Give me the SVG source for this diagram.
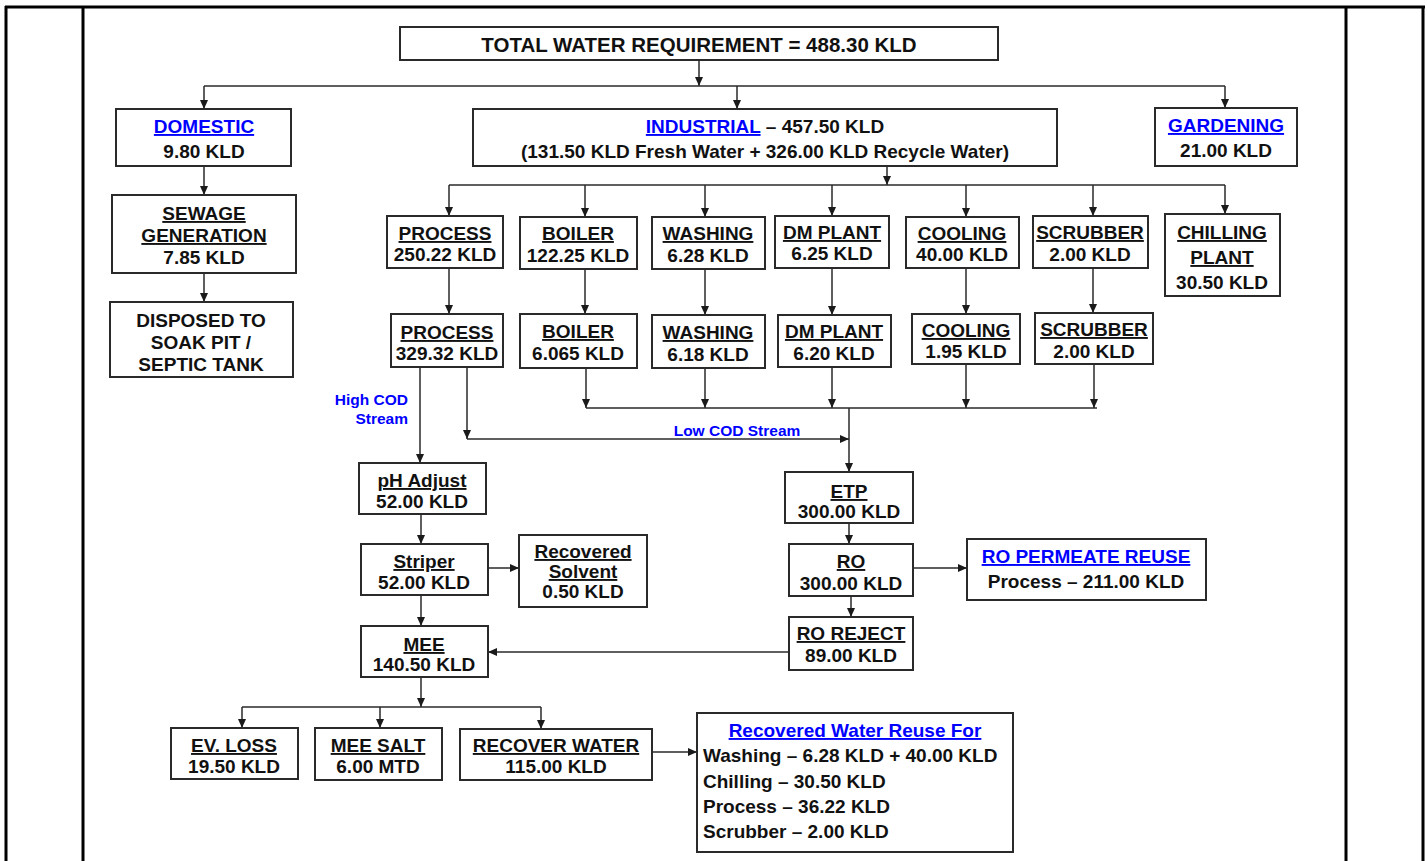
<svg xmlns="http://www.w3.org/2000/svg" width="1427" height="861" viewBox="0 0 1427 861">
  <defs>
    <marker id="arrow" markerUnits="userSpaceOnUse" markerWidth="9" markerHeight="8" viewBox="0 0 9 8" refX="9" refY="4" orient="auto">
      <path d="M0,0 L9,4 L0,8 z" fill="#1a1a1a"/>
    </marker>
    <style>
      .frame { stroke: #000; stroke-width: 3; fill: none; }
      .box { fill: #fff; stroke: #2a2a2a; stroke-width: 2; }
      .t { font-family: "Liberation Sans", Arial, sans-serif; font-weight: bold; font-size: 19px; fill: #111; text-anchor: middle; }
      .l { text-anchor: start; }
      .u { text-decoration: underline; }
      .blue { fill: #0000ff; }
      .big { font-size: 20.5px; }
      .note { font-family: "Liberation Sans", Arial, sans-serif; font-weight: bold; font-size: 15.5px; fill: #0000ff; }
      .conn line, .conn polyline { stroke: #2a2a2a; stroke-width: 1.5; fill: none; }
      .arr { marker-end: url(#arrow); }
    </style>
  </defs>

  <rect width="1427" height="861" fill="#fff"/>

  <!-- page frame -->
  <g id="frame" class="frame">
    <line x1="5" y1="7" x2="1425" y2="7"/>
    <line x1="6" y1="6" x2="6" y2="861"/>
    <line x1="83" y1="7" x2="83" y2="861"/>
    <line x1="1346" y1="7" x2="1346" y2="861"/>
    <line x1="1423" y1="6" x2="1423" y2="861"/>
  </g>

  <!-- connectors -->
  <g id="connectors" class="conn">
    <line class="arr" x1="699" y1="60" x2="699" y2="86"/>
    <line x1="204" y1="86" x2="1225" y2="86"/>
    <line class="arr" x1="204" y1="86" x2="204" y2="109"/>
    <line class="arr" x1="737" y1="86" x2="737" y2="109"/>
    <line class="arr" x1="1225" y1="86" x2="1225" y2="108"/>
    <line class="arr" x1="204" y1="166" x2="204" y2="195"/>
    <line class="arr" x1="204" y1="273" x2="204" y2="302"/>

    <line class="arr" x1="887" y1="166" x2="887" y2="185"/>
    <line x1="449" y1="185" x2="1225" y2="185"/>
    <line class="arr" x1="449" y1="185" x2="449" y2="216"/>
    <line class="arr" x1="585" y1="185" x2="585" y2="217"/>
    <line class="arr" x1="705" y1="185" x2="705" y2="217"/>
    <line class="arr" x1="832" y1="185" x2="832" y2="216"/>
    <line class="arr" x1="966" y1="185" x2="966" y2="217"/>
    <line class="arr" x1="1093" y1="185" x2="1093" y2="216"/>
    <line class="arr" x1="1225" y1="185" x2="1225" y2="214"/>

    <line class="arr" x1="449" y1="268" x2="449" y2="314"/>
    <line class="arr" x1="585" y1="269" x2="585" y2="314"/>
    <line class="arr" x1="705" y1="269" x2="705" y2="315"/>
    <line class="arr" x1="832" y1="268" x2="832" y2="315"/>
    <line class="arr" x1="966" y1="268" x2="966" y2="314"/>
    <line class="arr" x1="1093" y1="268" x2="1093" y2="313"/>

    <line class="arr" x1="586" y1="368" x2="586" y2="408"/>
    <line class="arr" x1="705" y1="368" x2="705" y2="408"/>
    <line class="arr" x1="832" y1="367" x2="832" y2="408"/>
    <line class="arr" x1="966" y1="364" x2="966" y2="408"/>
    <line class="arr" x1="1094" y1="364" x2="1094" y2="408"/>
    <line x1="586" y1="408" x2="1097" y2="408"/>
    <line class="arr" x1="849" y1="408" x2="849" y2="472"/>

    <line class="arr" x1="420" y1="367" x2="420" y2="463"/>
    <line class="arr" x1="467" y1="367" x2="467" y2="439"/>
    <line class="arr" x1="467" y1="439" x2="849" y2="439"/>

    <line class="arr" x1="421" y1="514" x2="421" y2="544"/>
    <line class="arr" x1="488" y1="568" x2="519" y2="568"/>
    <line class="arr" x1="421" y1="595" x2="421" y2="626"/>

    <line class="arr" x1="849" y1="523" x2="849" y2="544"/>
    <line class="arr" x1="913" y1="568" x2="967" y2="568"/>
    <line class="arr" x1="851" y1="596" x2="851" y2="617"/>
    <line class="arr" x1="789" y1="652" x2="488" y2="652"/>

    <line class="arr" x1="421" y1="677" x2="421" y2="707"/>
    <line x1="242" y1="707" x2="541" y2="707"/>
    <line class="arr" x1="242" y1="707" x2="242" y2="728"/>
    <line class="arr" x1="380" y1="707" x2="380" y2="728"/>
    <line class="arr" x1="541" y1="707" x2="541" y2="729"/>
    <line class="arr" x1="652" y1="752" x2="697" y2="752"/>
  </g>

  <!-- stream labels -->
  <g id="labels">
    <text class="note" x="408" y="405" text-anchor="end">High COD</text>
    <text class="note" x="408" y="424" text-anchor="end">Stream</text>
    <text class="note" x="737" y="436" text-anchor="middle">Low COD Stream</text>
  </g>

  <g id="total">
    <rect class="box" x="400" y="27" width="598" height="33"/>
    <text class="t big" x="699" y="52">TOTAL WATER REQUIREMENT = 488.30 KLD</text>
  </g>

  <g id="domestic">
    <rect class="box" x="116" y="109" width="175" height="57"/>
    <text class="t blue u" x="204" y="133">DOMESTIC</text>
    <text class="t" x="204" y="158">9.80 KLD</text>
  </g>

  <g id="industrial">
    <rect class="box" x="473" y="109" width="584" height="57"/>
    <text class="t" x="765" y="133"><tspan class="blue u">INDUSTRIAL</tspan> – 457.50 KLD</text>
    <text class="t" x="765" y="158">(131.50 KLD Fresh Water + 326.00 KLD Recycle Water)</text>
  </g>

  <g id="gardening">
    <rect class="box" x="1155" y="108" width="142" height="58"/>
    <text class="t blue u" x="1226" y="132">GARDENING</text>
    <text class="t" x="1226" y="157">21.00 KLD</text>
  </g>

  <g id="sewage">
    <rect class="box" x="112" y="195" width="184" height="78"/>
    <text class="t u" x="204" y="220">SEWAGE</text>
    <text class="t u" x="204" y="242">GENERATION</text>
    <text class="t" x="204" y="264">7.85 KLD</text>
  </g>

  <g id="disposed">
    <rect class="box" x="110" y="302" width="183" height="75"/>
    <text class="t" x="201" y="327">DISPOSED TO</text>
    <text class="t" x="201" y="349">SOAK PIT /</text>
    <text class="t" x="201" y="371">SEPTIC TANK</text>
  </g>

  <g id="process-in">
    <rect class="box" x="387" y="216" width="116" height="52"/>
    <text class="t u" x="445" y="240">PROCESS</text>
    <text class="t" x="445" y="261">250.22 KLD</text>
  </g>

  <g id="boiler-in">
    <rect class="box" x="520" y="217" width="117" height="52"/>
    <text class="t u" x="578" y="240">BOILER</text>
    <text class="t" x="578" y="262">122.25 KLD</text>
  </g>

  <g id="washing-in">
    <rect class="box" x="652" y="217" width="113" height="52"/>
    <text class="t u" x="708" y="240">WASHING</text>
    <text class="t" x="708" y="262">6.28 KLD</text>
  </g>

  <g id="dm-in">
    <rect class="box" x="775" y="216" width="114" height="52"/>
    <text class="t u" x="832" y="239">DM PLANT</text>
    <text class="t" x="832" y="260">6.25 KLD</text>
  </g>

  <g id="cooling-in">
    <rect class="box" x="906" y="217" width="113" height="51"/>
    <text class="t u" x="962" y="240">COOLING</text>
    <text class="t" x="962" y="261">40.00 KLD</text>
  </g>

  <g id="scrubber-in">
    <rect class="box" x="1033" y="216" width="115" height="52"/>
    <text class="t u" x="1090" y="239">SCRUBBER</text>
    <text class="t" x="1090" y="261">2.00 KLD</text>
  </g>

  <g id="chilling">
    <rect class="box" x="1165" y="214" width="115" height="82"/>
    <text class="t u" x="1222" y="239">CHILLING</text>
    <text class="t u" x="1222" y="264">PLANT</text>
    <text class="t" x="1222" y="289">30.50 KLD</text>
  </g>

  <g id="process-out">
    <rect class="box" x="391" y="314" width="112" height="53"/>
    <text class="t u" x="447" y="339">PROCESS</text>
    <text class="t" x="447" y="360">329.32 KLD</text>
  </g>

  <g id="boiler-out">
    <rect class="box" x="520" y="314" width="117" height="54"/>
    <text class="t u" x="578" y="338">BOILER</text>
    <text class="t" x="578" y="360">6.065 KLD</text>
  </g>

  <g id="washing-out">
    <rect class="box" x="652" y="315" width="113" height="53"/>
    <text class="t u" x="708" y="339">WASHING</text>
    <text class="t" x="708" y="361">6.18 KLD</text>
  </g>

  <g id="dm-out">
    <rect class="box" x="778" y="315" width="113" height="52"/>
    <text class="t u" x="834" y="338">DM PLANT</text>
    <text class="t" x="834" y="360">6.20 KLD</text>
  </g>

  <g id="cooling-out">
    <rect class="box" x="912" y="314" width="108" height="50"/>
    <text class="t u" x="966" y="337">COOLING</text>
    <text class="t" x="966" y="358">1.95 KLD</text>
  </g>

  <g id="scrubber-out">
    <rect class="box" x="1035" y="313" width="118" height="51"/>
    <text class="t u" x="1094" y="336">SCRUBBER</text>
    <text class="t" x="1094" y="358">2.00 KLD</text>
  </g>

  <g id="ph-adjust">
    <rect class="box" x="359" y="463" width="127" height="51"/>
    <text class="t u" x="422" y="487">pH Adjust</text>
    <text class="t" x="422" y="508">52.00 KLD</text>
  </g>

  <g id="striper">
    <rect class="box" x="361" y="544" width="127" height="51"/>
    <text class="t u" x="424" y="568">Striper</text>
    <text class="t" x="424" y="589">52.00 KLD</text>
  </g>

  <g id="recovered-solvent">
    <rect class="box" x="519" y="535" width="128" height="72"/>
    <text class="t u" x="583" y="558">Recovered</text>
    <text class="t u" x="583" y="578">Solvent</text>
    <text class="t" x="583" y="598">0.50 KLD</text>
  </g>

  <g id="mee">
    <rect class="box" x="361" y="626" width="127" height="51"/>
    <text class="t u" x="424" y="651">MEE</text>
    <text class="t" x="424" y="671">140.50 KLD</text>
  </g>

  <g id="etp">
    <rect class="box" x="785" y="472" width="128" height="51"/>
    <text class="t u" x="849" y="498">ETP</text>
    <text class="t" x="849" y="518">300.00 KLD</text>
  </g>

  <g id="ro">
    <rect class="box" x="789" y="544" width="124" height="52"/>
    <text class="t u" x="851" y="568">RO</text>
    <text class="t" x="851" y="590">300.00 KLD</text>
  </g>

  <g id="ro-permeate">
    <rect class="box" x="967" y="539" width="239" height="61"/>
    <text class="t blue u" x="1086" y="563">RO PERMEATE REUSE</text>
    <text class="t" x="1086" y="588">Process – 211.00 KLD</text>
  </g>

  <g id="ro-reject">
    <rect class="box" x="789" y="617" width="124" height="53"/>
    <text class="t u" x="851" y="640">RO REJECT</text>
    <text class="t" x="851" y="662">89.00 KLD</text>
  </g>

  <g id="ev-loss">
    <rect class="box" x="171" y="728" width="127" height="51"/>
    <text class="t u" x="234" y="752">EV. LOSS</text>
    <text class="t" x="234" y="773">19.50 KLD</text>
  </g>

  <g id="mee-salt">
    <rect class="box" x="315" y="728" width="127" height="52"/>
    <text class="t u" x="378" y="752">MEE SALT</text>
    <text class="t" x="378" y="773">6.00 MTD</text>
  </g>

  <g id="recover-water">
    <rect class="box" x="460" y="729" width="192" height="51"/>
    <text class="t u" x="556" y="752">RECOVER WATER</text>
    <text class="t" x="556" y="773">115.00 KLD</text>
  </g>

  <g id="recovered-reuse">
    <rect class="box" x="697" y="713" width="316" height="139"/>
    <text class="t blue u" x="855" y="737">Recovered Water Reuse For</text>
    <text class="t l" x="703" y="762">Washing – 6.28 KLD + 40.00 KLD</text>
    <text class="t l" x="703" y="788">Chilling – 30.50 KLD</text>
    <text class="t l" x="703" y="813">Process – 36.22 KLD</text>
    <text class="t l" x="703" y="838">Scrubber – 2.00 KLD</text>
  </g>
</svg>
